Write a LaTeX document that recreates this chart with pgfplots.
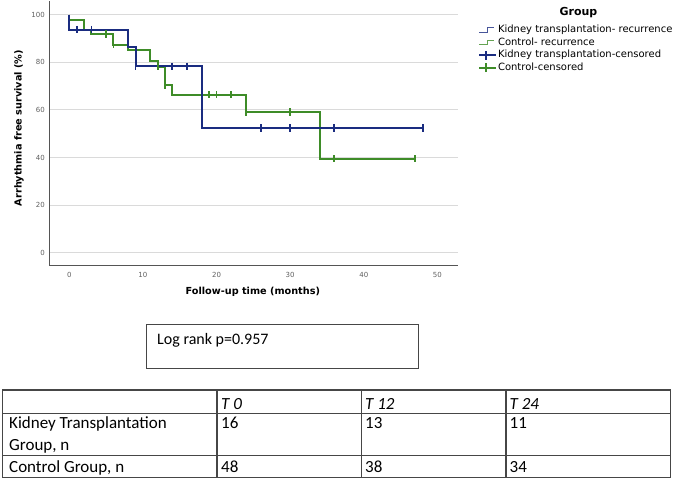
\documentclass[border=0pt]{standalone}
\usepackage{pgfplots}
\pgfplotsset{compat=1.18}
\usepackage{fontspec}
\setmainfont{DejaVu Sans}
\newfontfamily\calibri{Carlito}
\definecolor{kblue}{RGB}{26,44,128}
\definecolor{cgreen}{RGB}{62,140,40}
\definecolor{axgray}{RGB}{85,85,85}
\definecolor{tickgray}{RGB}{95,95,95}
\definecolor{gridgray}{RGB}{218,218,218}
\definecolor{tabgray}{RGB}{70,70,70}
\begin{document}
\begin{tikzpicture}
\path[use as bounding box] (0pt,0pt) rectangle (677pt,-479pt);
\begin{axis}[
  at={(49.3pt,-265.7pt)}, anchor=south west,
  scale only axis, width=408.7pt, height=264.7pt,
  xmin=-2.72, xmax=52.8, ymin=-5.46, ymax=105.76,
  axis x line*=bottom, axis y line*=left,
  axis line style={axgray, line width=1.4pt, -},
  xtick={0,10,20,30,40,50}, ytick={0,20,40,60,80,100},
  major tick length=0pt, tick style={draw=none},
  ymajorgrids, grid style={gridgray, line width=1.1pt},
  ticklabel style={font=\fontsize{7}{8}\selectfont, text=tickgray},
  xticklabel style={yshift=-3pt},
  yticklabel style={xshift=-1pt},
  /pgf/number format/assume math mode=true,
  xlabel={\textbf{Follow-up time (months)}},
  ylabel={\textbf{Arrhythmia free survival (\%)}},
  label style={font=\fontsize{9.7}{11}\selectfont, text=black},
  xlabel style={at={(axis description cs:0.498,-0.1005)}, anchor=center},
  ylabel style={at={(axis description cs:-0.074,0.52)}, anchor=center},
  legend style={at={(axis description cs:1.049,0.914)}, anchor=north west,
    draw=none, fill=none, inner sep=0pt, row sep=0pt,
    font=\fontsize{10}{12}\selectfont,
    nodes={inner sep=0.6pt, text height=8.4pt, text depth=2.9pt}},
  legend cell align=left,
  clip=false,
]
% step curves
\addplot[forget plot, const plot, cgreen, line width=2pt] coordinates {
 (0,100) (0,97.9) (2,97.9) (2,93.75) (3,93.75) (3,91.9) (6,91.9) (6,87.4)
 (8,87.4) (8,85.2) (11,85.2) (11,80.6) (12,80.6) (12,78.2) (13,78.2) (13,70.5)
 (14,70.5) (14,66.4) (24,66.4) (24,59.1) (34,59.1) (34,39.5) (47,39.5)};
\addplot[forget plot, const plot, kblue, line width=2pt] coordinates {
 (0,100) (0,93.75) (8,93.75) (8,86.5) (9,86.5) (9,78.4) (18,78.4) (18,52.4) (48,52.4)};
% censored marks
\addplot[forget plot, only marks, mark=|, mark size=3.6pt, cgreen, mark options={line width=1.8pt}] coordinates {
 (5,91.9) (6,87.4) (12,78.2) (13,70.5) (19,66.4) (20,66.4) (22,66.4) (24,59.1) (30,59.1) (36,39.5) (47,39.5)};
\addplot[forget plot, only marks, mark=|, mark size=3.6pt, kblue, mark options={line width=1.8pt}] coordinates {
 (1,93.75) (3,93.75) (9,78.4) (14,78.4) (16,78.4) (26,52.4) (30,52.4) (36,52.4) (48,52.4)};
% legend
\addlegendimage{legend image code/.code={\draw[kblue!80, line width=0.9pt] (0pt,-2pt) -- (8pt,-2pt) -- (8pt,2.5pt) -- (15pt,2.5pt);\path (17pt,0pt);}}
\addlegendentry{Kidney transplantation- recurrence}
\addlegendimage{legend image code/.code={\draw[cgreen!80, line width=0.9pt] (0pt,-2pt) -- (8pt,-2pt) -- (8pt,2.5pt) -- (15pt,2.5pt);\path (17pt,0pt);}}
\addlegendentry{Control- recurrence}
\addlegendimage{legend image code/.code={\draw[kblue, line width=2.2pt] (0pt,0pt) -- (17pt,0pt) (6.5pt,-4.5pt) -- (6.5pt,4.5pt);}}
\addlegendentry{Kidney transplantation-censored}
\addlegendimage{legend image code/.code={\draw[cgreen, line width=2.2pt] (0pt,0pt) -- (17pt,0pt) (6.5pt,-4.5pt) -- (6.5pt,4.5pt);}}
\addlegendentry{Control-censored}
\end{axis}
% legend title
\node[font=\fontsize{11}{13}\selectfont\bfseries] at (578.5pt,-13pt) {Group};
% log rank box
\draw[tabgray, line width=0.9pt] (146pt,-324.3pt) rectangle (418.3pt,-368.3pt);
\node[anchor=base west, inner sep=0pt, font=\calibri\fontsize{16}{19}\selectfont] at (157pt,-344.5pt) {Log rank p=0.957};
% table
\begin{scope}[tabgray, line width=1.1pt]
\draw (2.7pt,-390pt) rectangle (670.7pt,-477.7pt);
\draw (2.7pt,-413.3pt) -- (670.7pt,-413.3pt);
\draw (2.7pt,-455.7pt) -- (670.7pt,-455.7pt);
\draw (217pt,-390pt) -- (217pt,-477.7pt);
\draw (361.7pt,-390pt) -- (361.7pt,-477.7pt);
\draw (506pt,-390pt) -- (506pt,-477.7pt);
\end{scope}
\begin{scope}[every node/.style={anchor=base west, inner sep=0pt, font=\calibri\fontsize{17}{20}\selectfont}]
\node at (221pt,-409pt) {\itshape T 0};
\node at (365pt,-409pt) {\itshape T 12};
\node at (509.5pt,-409pt) {\itshape T 24};
\node at (9pt,-428.3pt) {Kidney Transplantation};
\node at (9pt,-450.7pt) {Group, n};
\node at (221pt,-428.3pt) {16};
\node at (365pt,-428.3pt) {13};
\node at (509.5pt,-428.3pt) {11};
\node at (9pt,-472.3pt) {Control Group, n};
\node at (221pt,-472.3pt) {48};
\node at (365pt,-472.3pt) {38};
\node at (509.5pt,-472.3pt) {34};
\end{scope}
\end{tikzpicture}
\end{document}
